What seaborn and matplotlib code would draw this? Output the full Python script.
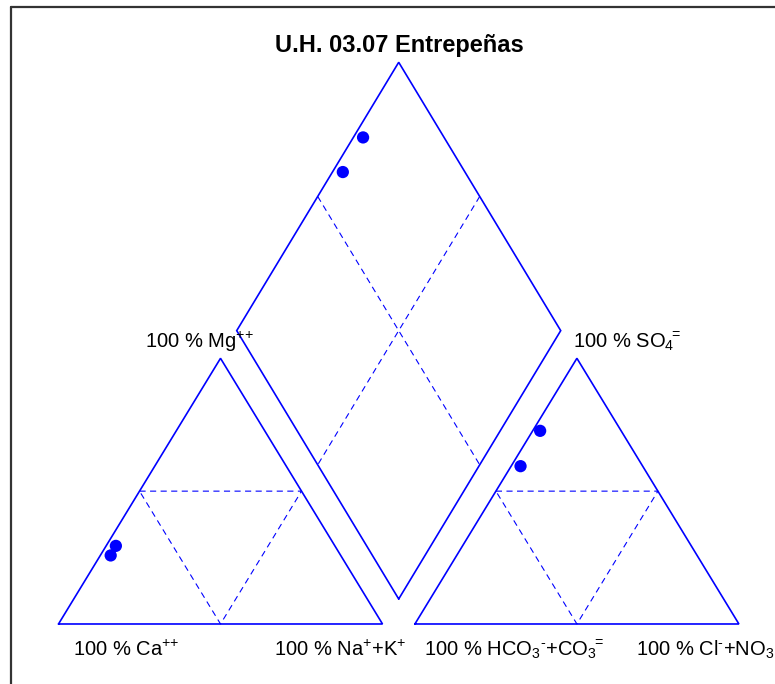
import numpy as np
import pandas as pd
import matplotlib
matplotlib.use("Agg")
import matplotlib.pyplot as plt
import seaborn as sns
from matplotlib.lines import Line2D

# ---------------- data (meq %) ----------------
title = "U.H. 03.07 Entrepeñas"
samples = ["S1", "S2"]
ca = [67.6, 71.0]
mg = [29.4, 25.8]
nak = [3.0, 3.2]
hco3 = [25.0, 37.7]
so4 = [72.7, 59.4]
cl = [2.3, 2.9]

HY = "\u2010"  # short hyphen used as minus sign
lbl_mg = "100 % Mg$^{{+}{+}}$"
lbl_so4 = "100 % SO$_4{}^{\\!\\!=}$"
lbl_ca = "100 % Ca$^{{+}{+}}$"
lbl_na = "100 % Na$^{+}$+K$^{+}$"
lbl_hco3 = "100 % HCO$_3{}^{" + HY + "}$+CO$_3{}^{\\!\\!=}$"
lbl_cl = "100 % Cl$^{" + HY + "}$+NO$_3$"

# ---------------- style ----------------
sns.set_style("white")
plt.rcParams["font.family"] = ["Liberation Sans", "DejaVu Sans"]
plt.rcParams["mathtext.fontset"] = "custom"
plt.rcParams["mathtext.rm"] = "Liberation Sans"
plt.rcParams["mathtext.it"] = "Liberation Sans"
plt.rcParams["mathtext.bf"] = "Liberation Sans:bold"
plt.rcParams["mathtext.default"] = "rm"
plt.rcParams["text.color"] = "black"

BLUE = "#0000FF"
H = np.sqrt(3) / 2
gap = 0.1

fig = plt.figure(figsize=(7.75, 6.84), dpi=100)
ax = fig.add_axes([0, 0, 1, 1])
ax.set_xlim(-0.1806, 2.2114)
ax.set_ylim(-0.1956, 2.0339)
ax.axis("off")

solid = dict(color=BLUE, lw=1.2, solid_joinstyle="miter")
dash = dict(color=BLUE, lw=0.8, linestyle=(0, (5.5, 4.0)))

# left triangle
ax.plot([0, 1, 0.5, 0], [0, 0, H, 0], **solid)
ax.plot([0.25, 0.75, 0.5, 0.25], [H / 2, H / 2, 0, H / 2], **dash)
# right triangle
o = 1 + gap
ax.plot([o, o + 1, o + 0.5, o], [0, 0, H, 0], **solid)
ax.plot([o + 0.25, o + 0.75, o + 0.5, o + 0.25], [H / 2, H / 2, 0, H / 2], **dash)

# diamond (drawn slightly taller, as in the original figure)
kd = 1.01
bx, by = 1 + gap / 2, 0.0815
dH = H * kd
dx = [bx, bx + 0.5, bx, bx - 0.5, bx]
dy = [by, by + dH, by + 2 * dH, by + dH, by]
ax.plot(dx, dy, **solid)
ax.plot([bx - 0.25, bx + 0.25], [by + 1.5 * dH, by + 0.5 * dH], **dash)
ax.plot([bx + 0.25, bx - 0.25], [by + 1.5 * dH, by + 0.5 * dH], **dash)

# ---------------- points ----------------
ca_a, mg_a, na_a = (np.array(v) / 100 for v in (ca, mg, nak))
hc_a, so_a, cl_a = (np.array(v) / 100 for v in (hco3, so4, cl))
xc = na_a + mg_a / 2
yc = mg_a * H
xa = o + cl_a + so_a / 2
ya = so_a * H
t = ((ya - yc) / H + 2 * (xa - xc)) / 2
xd = xc + 0.5 * t
yd_std = yc + H * t
yd = by + (yd_std - gap * H) * kd

pts = pd.DataFrame({
    "x": np.concatenate([xc, xa, xd]),
    "y": np.concatenate([yc, ya, yd]),
    "sample": samples * 3,
})
sns.scatterplot(data=pts, x="x", y="y", color=BLUE, s=78, edgecolor="none",
                ax=ax, legend=False, zorder=5)
ax.set_xlabel("")
ax.set_ylabel("")

# ---------------- text ----------------
fs = 14.5
ax.text(1.0525, 1.8654, title, ha="center", va="baseline", fontsize=17,
        fontweight="bold")
ax.text(0.267, 0.8986, lbl_mg, ha="left", va="baseline", fontsize=fs)
ax.text(1.587, 0.8986, lbl_so4, ha="left", va="baseline", fontsize=fs)
ax.text(0.0438, -0.1043, lbl_ca, ha="left", va="baseline", fontsize=fs)
ax.text(0.6664, -0.1043, lbl_na, ha="left", va="baseline", fontsize=fs)
ax.text(1.128, -0.1043, lbl_hco3, ha="left", va="baseline", fontsize=fs)
ax.text(1.7833, -0.1043, lbl_cl, ha="left", va="baseline", fontsize=fs)

# frame (partially outside the picture)
W, Hpx = 775, 684
fx, fy = 11 / W, 1 - 6.5 / Hpx
fig.add_artist(Line2D([fx, 1.2], [fy, fy], transform=fig.transFigure,
                      color="#333333", lw=1.6))
fig.add_artist(Line2D([fx, fx], [fy, -0.2], transform=fig.transFigure,
                      color="#333333", lw=1.6))

fig.savefig("out.png", dpi=100)
